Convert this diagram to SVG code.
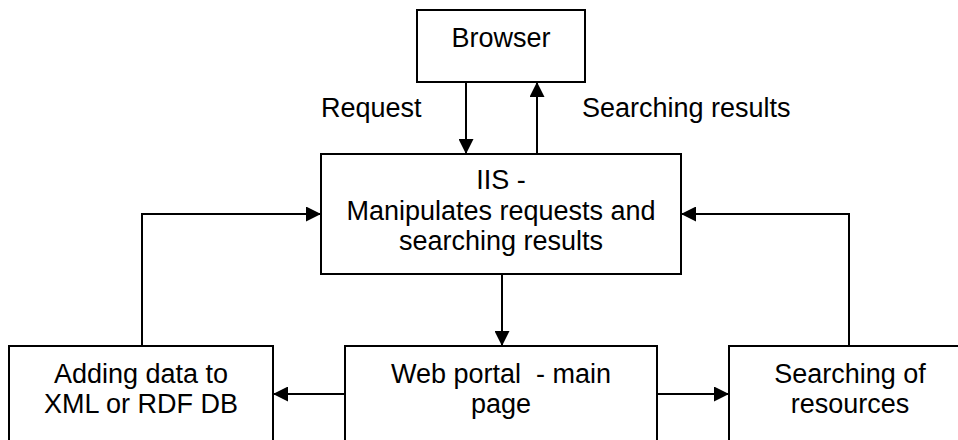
<svg xmlns="http://www.w3.org/2000/svg" width="958" height="440" viewBox="0 0 958 440">
<defs>
<marker id="ah" markerWidth="15" markerHeight="15" refX="15" refY="7.5" orient="auto" markerUnits="userSpaceOnUse">
<path d="M0,0 L15,7.5 L0,15 Z" fill="#000"/>
</marker>
<style>
.box{fill:#fff;stroke:#000;stroke-width:2}
.t{font-family:"Liberation Sans",Arial,sans-serif;font-size:27px;fill:#000}
.c{text-anchor:middle}
.ln{fill:none;stroke:#000;stroke-width:2}
</style>
</defs>
<rect width="958" height="440" fill="#fff"/>
<g id="browser">
<rect class="box" x="417" y="10" width="168" height="72"/>
<text class="t c" x="501" y="47">Browser</text>
</g>
<g id="iis">
<rect class="box" x="321" y="154" width="360" height="120"/>
<text class="t c" x="501" y="189">IIS -</text>
<text class="t c" x="501" y="220">Manipulates requests and</text>
<text class="t c" x="501" y="250">searching results</text>
</g>
<g id="adding">
<rect class="box" x="9" y="346" width="264" height="100"/>
<text class="t c" x="141" y="383">Adding data to</text>
<text class="t c" x="141" y="413">XML or RDF DB</text>
</g>
<g id="webportal">
<rect class="box" x="345" y="346" width="312" height="100"/>
<text class="t c" x="501" y="383" xml:space="preserve">Web portal  - main</text>
<text class="t c" x="501" y="413">page</text>
</g>
<g id="searching">
<rect class="box" x="729" y="346" width="241" height="100"/>
<text class="t c" x="850" y="383">Searching of</text>
<text class="t c" x="850" y="413">resources</text>
</g>
<g id="connectors">
<line class="ln" x1="466" y1="82" x2="466" y2="154" marker-end="url(#ah)"/>
<line class="ln" x1="537" y1="154" x2="537" y2="82" marker-end="url(#ah)"/>
<polyline class="ln" points="142,346 142,214 321,214" marker-end="url(#ah)"/>
<polyline class="ln" points="849,346 849,214 681,214" marker-end="url(#ah)"/>
<line class="ln" x1="502" y1="274" x2="502" y2="346" marker-end="url(#ah)"/>
<line class="ln" x1="345" y1="394" x2="273" y2="394" marker-end="url(#ah)"/>
<line class="ln" x1="657" y1="394" x2="729" y2="394" marker-end="url(#ah)"/>
<text class="t" x="321" y="117">Request</text>
<text class="t" x="582" y="117">Searching results</text>
</g>
</svg>
